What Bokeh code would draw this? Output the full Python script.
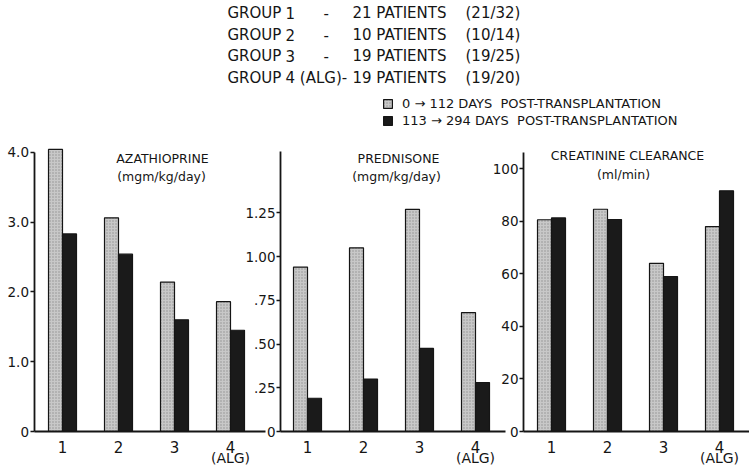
import numpy as np
from bokeh.plotting import figure
from bokeh.models import (Range1d, LinearAxis, FixedTicker, Label, Legend,
                          LegendItem, ColumnDataSource)
from bokeh.core.properties import value
from bokeh.embed import file_html
from bokeh.resources import INLINE

# ------------------------------------------------------------------ data
groups = ["1", "2", "3", "4"]
group_note = "(ALG)"

aza_early = [4.04, 3.06, 2.14, 1.86]
aza_late = [2.83, 2.54, 1.60, 1.45]
pred_early = [0.94, 1.05, 1.27, 0.68]
pred_late = [0.19, 0.30, 0.475, 0.28]
crcl_early = [80.6, 84.6, 64.0, 78.0]
crcl_late = [81.3, 80.7, 59.0, 91.6]

aza_ticks = [0, 1, 2, 3, 4]
aza_tick_labels = ["0", "1.0", "2.0", "3.0", "4.0"]
pred_ticks = [0, 0.25, 0.5, 0.75, 1.0, 1.25]
pred_tick_labels = ["0", ".25", ".50", ".75", "1.00", "1.25"]
crcl_ticks = [0, 20, 40, 60, 80, 100]
crcl_tick_labels = ["0", "20", "40", "60", "80", "100"]

header_groups = ["1", "2", "3", "4 (ALG)-"]
header_dashes = ["-", "-", "-", ""]
header_patients = [21, 10, 19, 19]
header_totals = [32, 14, 25, 20]

period_labels = ["0 \u2192 112 DAYS  POST-TRANSPLANTATION",
                 "113 \u2192 294 DAYS  POST-TRANSPLANTATION"]
panel_titles = ["AZATHIOPRINE", "PREDNISONE", "CREATININE CLEARANCE"]
panel_units = ["(mgm/kg/day)", "(mgm/kg/day)", "(ml/min)"]

# ------------------------------------------------------------------ layout
FONT = "DejaVu Sans"
INK = "#151515"
GRAY = "#c8c8c8"
BLACK = "#1a1a1a"

W, H = 749, 472
ZERO_Y = 431.0                # canvas y of the zero line
PXU = 56.0                    # px per group step


def ux(px):
    return px / PXU


AZA_PPU = (ZERO_Y - 151.7) / 4.0
PRED_PPU = (ZERO_Y - 212.3) / 1.25
CRCL_PPU = (ZERO_Y - 168.3) / 100.0


def yrange(ppu):
    return Range1d(-(H - ZERO_Y) / ppu, ZERO_Y / ppu)


p = figure(width=W, height=H,
           x_range=Range1d(0, W / PXU),
           y_range=yrange(AZA_PPU),
           x_axis_type=None, y_axis_type=None,
           output_backend="svg", toolbar_location=None,
           min_border_left=0, min_border_right=0,
           min_border_top=0, min_border_bottom=0,
           outline_line_color=None,
           background_fill_color="white", border_fill_color="white")
p.extra_x_ranges = {"page_x": Range1d(0, W)}
p.extra_y_ranges = {
    "pred": yrange(PRED_PPU),
    "crcl": yrange(CRCL_PPU),
    "page_y": Range1d(H, 0),
}

BW = 14.0 / PXU

panels = [
    dict(early=aza_early, late=aza_late, yr="default", first=62.0,
         axis=33.5, base_end=265.0, top=4.0,
         ticks=aza_ticks, labels=aza_tick_labels),
    dict(early=pred_early, late=pred_late, yr="pred", first=307.0,
         axis=280.0, base_end=505.0, top=1.6,
         ticks=pred_ticks, labels=pred_tick_labels),
    dict(early=crcl_early, late=crcl_late, yr="crcl", first=551.0,
         axis=523.0, base_end=W, top=106.3,
         ticks=crcl_ticks, labels=crcl_tick_labels),
]

early_renderers, late_renderers = [], []
for pn in panels:
    centers = [ux(pn["first"]) + k for k in range(len(groups))]
    src = ColumnDataSource(dict(
        xe=[c - BW / 2 for c in centers],
        xl=[c + BW / 2 for c in centers],
        early=pn["early"], late=pn["late"]))
    re = p.vbar(x="xe", top="early", bottom=0, width=BW, source=src,
                y_range_name=pn["yr"], fill_color=GRAY, line_color=INK,
                line_width=1.2, hatch_pattern="dot", hatch_scale=3,
                hatch_color="#555555", hatch_alpha=0.5, hatch_weight=1)
    rl = p.vbar(x="xl", top="late", bottom=0, width=BW, source=src,
                y_range_name=pn["yr"], fill_color=BLACK, line_color=INK,
                line_width=1.2)
    early_renderers.append(re)
    late_renderers.append(rl)

    yax = LinearAxis(y_range_name=pn["yr"], fixed_location=ux(pn["axis"]),
                     bounds=(0, pn["top"]),
                     ticker=FixedTicker(ticks=pn["ticks"]),
                     major_label_overrides=dict(zip(pn["ticks"], pn["labels"])),
                     axis_line_color=INK, axis_line_width=1.8,
                     major_tick_line_color=INK, major_tick_line_width=1.4,
                     major_tick_in=0, major_tick_out=4,
                     minor_tick_line_color=None,
                     major_label_standoff=1,
                     major_label_text_font=FONT,
                     major_label_text_font_size="13.5px",
                     major_label_text_color=INK)
    p.add_layout(yax, "left")

    xax = LinearAxis(fixed_location=0,
                     bounds=(ux(pn["axis"]), ux(pn["base_end"])),
                     ticker=FixedTicker(ticks=centers),
                     major_label_overrides=dict(zip(centers, groups)),
                     axis_line_color=INK, axis_line_width=1.8,
                     major_tick_line_color=None, minor_tick_line_color=None,
                     major_label_standoff=3,
                     major_label_text_font=FONT,
                     major_label_text_font_size="15px",
                     major_label_text_color=INK)
    p.add_layout(xax, "below")

    p.add_layout(Label(x=centers[-1], y=457.5, y_range_name="page_y",
                       text=group_note, text_align="center",
                       text_baseline="middle", text_font=FONT,
                       text_font_size="14px", text_color=INK))


def page_text(xs, ys, texts, size, align="left"):
    p.text(x=xs, y=ys, text=texts, x_range_name="page_x",
           y_range_name="page_y", text_font=value(FONT),
           text_font_size=size, text_align=align,
           text_baseline="middle", text_color=INK)


# header
rows_y = [12.5, 34.0, 55.5, 77.0]
page_text([227] * 4, rows_y, ["GROUP"] * 4, "15px")
page_text([285] * 4, rows_y, header_groups, "15px")
page_text([323] * 4, rows_y, header_dashes, "15px")
page_text([352] * 4, rows_y, [f"{n} PATIENTS" for n in header_patients], "15px")
page_text([465] * 4, rows_y,
          [f"({n}/{t})" for n, t in zip(header_patients, header_totals)], "15px")

# panel titles
page_text([162, 398, 627], [158, 158, 155], panel_titles, "12.5px", "center")
page_text([161, 396, 623], [176, 176, 174], panel_units, "12.5px", "center")

legend = Legend(items=[
    LegendItem(label=value(period_labels[0]), renderers=[early_renderers[0]]),
    LegendItem(label=value(period_labels[1]), renderers=[late_renderers[0]])],
    location=(382, H - 128),
    orientation="vertical", border_line_color=None,
    background_fill_alpha=0, padding=0, margin=0, spacing=2,
    glyph_width=11, glyph_height=11, label_standoff=9, label_height=11,
    label_text_font=FONT, label_text_font_size="13px",
    label_text_color=INK)
p.add_layout(legend)

p.grid.visible = False

open("out.html", "w").write(file_html(p, INLINE))
